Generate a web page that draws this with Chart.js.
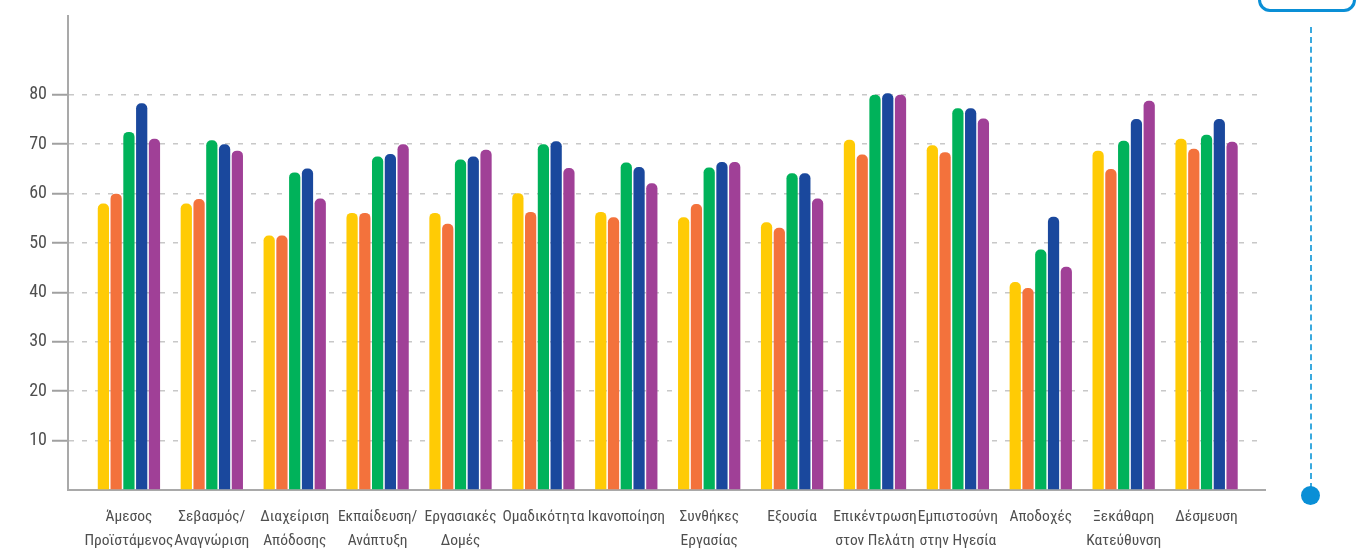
<!DOCTYPE html>
<html>
<head>
<meta charset="utf-8">
<script src="https://cdn.jsdelivr.net/npm/chart.js@4/dist/chart.umd.min.js"></script>
<style>
  html, body { margin: 0; padding: 0; background: #ffffff; }
  #wrap { position: relative; width: 1357px; height: 554px; overflow: hidden; }
  #c { position: absolute; left: 0; top: 0; }
  .deco-box { position: absolute; left: 1258px; top: -30px; width: 92px; height: 36px;
              border: 3px solid #0a8fd6; border-radius: 12px; }
  .deco-line { position: absolute; left: 1310px; top: 27px; width: 0; height: 462px;
               border-left: 2.5px dashed #3aa9de; }
  .deco-dot { position: absolute; left: 1301px; top: 486px; width: 19px; height: 19px;
              border-radius: 50%; background: #0a8fd6; }
</style>
</head>
<body>
<div id="wrap">
  <canvas id="c" width="1357" height="554"></canvas>
  <div class="deco-box"></div>
  <div class="deco-line"></div>
  <div class="deco-dot"></div>
</div>
<script>
const categories = [
  ['Άμεσος', 'Προϊστάμενος'],
  ['Σεβασμός/', 'Αναγνώριση'],
  ['Διαχείριση', 'Απόδοσης'],
  ['Εκπαίδευση/', 'Ανάπτυξη'],
  ['Εργασιακές', 'Δομές'],
  'Ομαδικότητα',
  'Ικανοποίηση',
  ['Συνθήκες', 'Εργασίας'],
  'Εξουσία',
  ['Επικέντρωση', 'στον Πελάτη'],
  ['Εμπιστοσύνη', 'στην Ηγεσία'],
  'Αποδοχές',
  ['Ξεκάθαρη', 'Κατεύθυνση'],
  'Δέσμευση'
];

const seriesYellow = [58, 58, 51.5, 56.1, 56.1, 60.1, 56.3, 55.2, 54.2, 70.9, 69.8, 42.1, 68.7, 71.1];
const seriesOrange = [60, 58.9, 51.5, 56.1, 53.9, 56.3, 55.2, 57.9, 53.1, 67.9, 68.4, 40.9, 65, 69.1];
const seriesGreen  = [72.5, 70.8, 64.3, 67.5, 66.9, 70, 66.3, 65.3, 64.1, 80, 77.3, 48.7, 70.7, 71.9];
const seriesBlue   = [78.3, 70, 65.1, 68, 67.5, 70.6, 65.4, 66.4, 64.1, 80.3, 77.3, 55.3, 75.1, 75.1];
const seriesPurple = [71.1, 68.7, 59, 70, 68.9, 65.2, 62.1, 66.4, 59, 80, 75.2, 45.2, 78.8, 70.5];

const yTickLabels = [10, 20, 30, 40, 50, 60, 70, 80];

const seriesList = [
  { name: 'Σειρά 1', values: seriesYellow, color: '#ffcb05' },
  { name: 'Σειρά 2', values: seriesOrange, color: '#f3723c' },
  { name: 'Σειρά 3', values: seriesGreen,  color: '#00b25a' },
  { name: 'Σειρά 4', values: seriesBlue,   color: '#1a489d' },
  { name: 'Σειρά 5', values: seriesPurple, color: '#a04097' }
];

const FONT = "'Roboto Condensed', 'DejaVu Sans Condensed', sans-serif";
const yMin = yTickLabels[0], yMax = yTickLabels[yTickLabels.length - 1];

new Chart(document.getElementById('c'), {
  type: 'bar',
  data: {
    datasets: seriesList.map(s => ({
      label: s.name,
      data: s.values.map((v, i) => ({ x: i, y: v })),
      backgroundColor: s.color,
      borderWidth: 0,
      borderRadius: { topLeft: 5, topRight: 5, bottomLeft: 0, bottomRight: 0 },
      borderSkipped: 'bottom',
      categoryPercentage: 0.77,
      barPercentage: 0.88
    }))
  },
  options: {
    responsive: false,
    devicePixelRatio: 1,
    animation: false,
    layout: { padding: { top: 10, right: 92, bottom: 0, left: 0 } },
    plugins: { legend: { display: false }, tooltip: { enabled: false } },
    scales: {
      x: {
        type: 'linear',
        offset: false,
        min: -0.735,
        max: 13.705,
        afterFit: (scale) => { scale.height = 64; },
        grid: { display: false, drawTicks: false, offset: false },
        border: { display: true, color: '#a9a9a9', width: 2 },
        ticks: {
          stepSize: 1,
          includeBounds: false,
          autoSkip: false,
          maxRotation: 0,
          padding: 15,
          color: '#4f4f4f',
          font: { family: FONT, size: 15.5, lineHeight: 1.55 },
          callback: (v) => {
            const i = Math.round(v);
            return (Math.abs(v - i) < 1e-6 && categories[i] !== undefined) ? categories[i] : '';
          }
        }
      },
      y: {
        min: 0,
        max: 96,
        afterFit: (scale) => { scale.width = 68; },
        border: { display: true, color: '#a9a9a9', width: 2, dash: [5, 8] },
        grid: {
          color: (ctx) => (ctx.tick && ctx.tick.value >= yMin && ctx.tick.value <= yMax) ? '#c8c8c8' : 'rgba(0,0,0,0)',
          lineWidth: 1.5,
          drawTicks: true,
          tickLength: 16,
          tickWidth: 2,
          tickColor: (ctx) => (ctx.tick && ctx.tick.value >= yMin && ctx.tick.value <= yMax) ? '#a0a0a0' : 'rgba(0,0,0,0)',
          tickBorderDash: []
        },
        ticks: {
          stepSize: 10,
          maxTicksLimit: 100,
          padding: 5,
          color: '#4f4f4f',
          font: { family: FONT, size: 18 },
          callback: (v) => yTickLabels.includes(v) ? String(v) : ''
        }
      }
    }
  }
});
</script>
</body>
</html>
